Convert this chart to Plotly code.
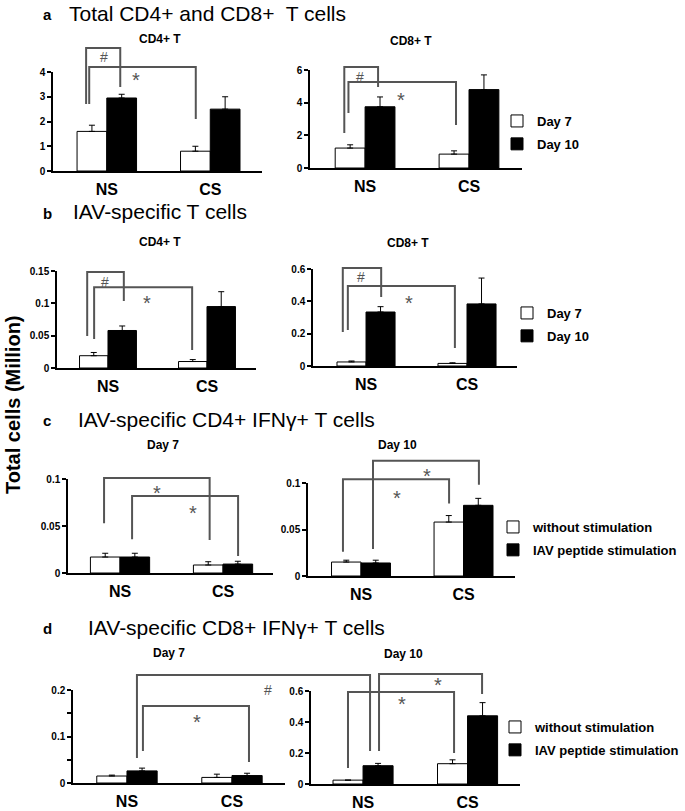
import plotly.graph_objects as go

W, H = 685, 811
FONT = 'Liberation Sans, Arial, sans-serif'

# ---- data (million cells), NS / CS ----
groups = ['NS', 'CS']

a_cd4_day7 = [1.6, 0.8]
a_cd4_day7_err = [0.25, 0.2]
a_cd4_day10 = [2.95, 2.5]
a_cd4_day10_err = [0.15, 0.5]
a_cd8_day7 = [1.22, 0.85]
a_cd8_day7_err = [0.2, 0.2]
a_cd8_day10 = [3.75, 4.8]
a_cd8_day10_err = [0.6, 0.9]

b_cd4_day7 = [0.019, 0.01]
b_cd4_day7_err = [0.005, 0.003]
b_cd4_day10 = [0.058, 0.095]
b_cd4_day10_err = [0.007, 0.023]
b_cd8_day7 = [0.025, 0.016]
b_cd8_day7_err = [0.006, 0.004]
b_cd8_day10 = [0.334, 0.384]
b_cd8_day10_err = [0.033, 0.16]

c_day7_unstim = [0.017, 0.0085]
c_day7_unstim_err = [0.004, 0.0035]
c_day7_stim = [0.017, 0.0095]
c_day7_stim_err = [0.004, 0.003]
c_day10_unstim = [0.015, 0.058]
c_day10_unstim_err = [0.002, 0.007]
c_day10_stim = [0.014, 0.076]
c_day10_stim_err = [0.003, 0.0075]

d_day7_unstim = [0.015, 0.012]
d_day7_unstim_err = [0.002, 0.007]
d_day7_stim = [0.026, 0.016]
d_day7_stim_err = [0.006, 0.005]
d_day10_unstim = [0.025, 0.131]
d_day10_unstim_err = [0.0, 0.025]
d_day10_stim = [0.118, 0.44]
d_day10_stim_err = [0.015, 0.085]

day_names = ['Day 7', 'Day 10']
stim_names = ['without stimulation', 'IAV peptide stimulation']


def X(px):
    return px / W


def Y(py):
    return 1 - py / H


# panel geometry in pixels: left, right, bottom, top, x range, y max, tick values, tick text
panels = {
    'a1': dict(box=(53, 262, 171, 72), xr=[-0.52, 1.5], ymax=4,
               tv=[0, 1, 2, 3, 4], tt=['0', '1', '2', '3', '4'],
               series=[(a_cd4_day7, a_cd4_day7_err), (a_cd4_day10, a_cd4_day10_err)],
               names=day_names, legend=None, title='CD4+ T', tpos=(160, 39)),
    'a2': dict(box=(310, 522, 168, 70), xr=[-0.53, 1.51], ymax=6,
               tv=[0, 2, 4, 6], tt=['0', '2', '4', '6'],
               series=[(a_cd8_day7, a_cd8_day7_err), (a_cd8_day10, a_cd8_day10_err)],
               names=day_names, legend='legend', title='CD8+ T', tpos=(411, 41)),
    'b1': dict(box=(57, 256, 368, 271), xr=[-0.515, 1.495], ymax=0.15,
               tv=[0, 0.05, 0.1, 0.15], tt=['0', '0.05', '0.1', '0.15'],
               series=[(b_cd4_day7, b_cd4_day7_err), (b_cd4_day10, b_cd4_day10_err)],
               names=day_names, legend=None, title='CD4+ T', tpos=(160, 242)),
    'b2': dict(box=(313, 517, 366, 269), xr=[-0.525, 1.495], ymax=0.6,
               tv=[0, 0.2, 0.4, 0.6], tt=['0', '0.2', '0.4', '0.6'],
               series=[(b_cd8_day7, b_cd8_day7_err), (b_cd8_day10, b_cd8_day10_err)],
               names=day_names, legend='legend2', title='CD8+ T', tpos=(408, 243)),
    'c1': dict(box=(68, 273, 573, 479), xr=[-0.505, 1.485], ymax=0.1,
               tv=[0, 0.05, 0.1], tt=['0', '0.05', '0.1'],
               series=[(c_day7_unstim, c_day7_unstim_err), (c_day7_stim, c_day7_stim_err)],
               names=stim_names, legend=None, title='Day 7', tpos=(163, 445)),
    'c2': dict(box=(308, 515, 576, 483), xr=[-0.517, 1.502], ymax=0.1,
               tv=[0, 0.05, 0.1], tt=['0', '0.05', '0.1'],
               series=[(c_day10_unstim, c_day10_unstim_err), (c_day10_stim, c_day10_stim_err)],
               names=stim_names, legend='legend3', title='Day 10', tpos=(397, 445)),
    'd1': dict(box=(73, 285, 783, 690), xr=[-0.514, 1.505], ymax=0.2,
               tv=[0, 0.05, 0.1, 0.15, 0.2], tt=['0', '', '0.1', '', '0.2'],
               series=[(d_day7_unstim, d_day7_unstim_err), (d_day7_stim, d_day7_stim_err)],
               names=stim_names, legend=None, title='Day 7', tpos=(169, 653)),
    'd2': dict(box=(311, 520, 784, 691), xr=[-0.498, 1.502], ymax=0.6,
               tv=[0, 0.2, 0.4, 0.6], tt=['0', '0.2', '0.4', '0.6'],
               series=[(d_day10_unstim, d_day10_unstim_err), (d_day10_stim, d_day10_stim_err)],
               names=stim_names, legend='legend4', title='Day 10', tpos=(403, 654)),
}

# significance brackets in data units: symbol, x left, y left end, x right, y right end, y top, label x, label y
brackets = {
    'a1': [('#', -0.20, 2.71, 0.13, 3.39, 4.97, -0.03, 4.6),
           ('*', -0.17, 2.71, 0.86, 2.1, 4.2, 0.28, 3.88)],
    'a2': [('#', -0.20, 2.14, 0.125, 4.96, 6.18, -0.05, 5.57),
           ('*', -0.16, 3.37, 0.875, 2.63, 5.27, 0.35, 4.47)],
    'b1': [('#', -0.21, 0.0495, 0.16, 0.1036, 0.1484, -0.03, 0.133),
           ('*', -0.14, 0.045, 0.85, 0.028, 0.125, 0.39, 0.108)],
    'b2': [('#', -0.23, 0.21, 0.15, 0.427, 0.606, -0.05, 0.55),
           ('*', -0.18, 0.223, 0.88, 0.111, 0.495, 0.43, 0.42)],
    'c1': [('*', -0.155, 0.053, 0.87, 0.035, 0.101, 0.36, 0.090),
           ('*', 0.117, 0.036, 1.146, 0.018, 0.082, 0.71, 0.069)],
    'c2': [('*', 0.117, 0.029, 1.15, 0.098, 0.124, 0.645, 0.113),
           ('*', -0.176, 0.026, 0.859, 0.078, 0.104, 0.35, 0.089)],
    'd1': [('*', 0.152, 0.0688, 1.162, 0.045, 0.1656, 0.667, 0.142)],
    'd2': [('*', 0.153, 0.213, 1.139, 0.58, 0.71, 0.718, 0.67),
           ('*', -0.144, 0.103, 0.871, 0.2, 0.593, 0.37, 0.548)],
}


def to_px(key, xv, yv):
    p = panels[key]
    l, r, b, t = p['box']
    x0, x1 = p['xr']
    return l + (xv - x0) / (x1 - x0) * (r - l), b - yv / p['ymax'] * (b - t)


fig = go.Figure()
layout = dict(shapes=[], annotations=[])
fills = ['white', 'black']

for i, (key, p) in enumerate(panels.items()):
    n = '' if i == 0 else str(i + 1)
    l, r, b, t = p['box']
    for j, (vals, err) in enumerate(p['series']):
        fig.add_trace(go.Bar(
            x=[0, 1], y=vals, name=p['names'][j],
            marker=dict(color=fills[j], line=dict(color='black', width=1)),
            error_y=dict(type='data', array=err, arrayminus=[0, 0], symmetric=False,
                         color='black', thickness=1, width=3),
            xaxis='x' + n, yaxis='y' + n,
            showlegend=p['legend'] is not None,
            legend=p['legend'] or 'legend',
            legendgroup=key + str(j),
        ))
    layout['xaxis' + n] = dict(
        domain=[X(l), X(r)], range=p['xr'], anchor='y' + n, automargin=False,
        tickvals=[0, 1], ticktext=groups, ticks='outside', ticklen=3,
        tickcolor='rgba(0,0,0,0)', showline=True, linecolor='black', linewidth=1.5,
        showgrid=False, zeroline=False, fixedrange=True,
        tickfont=dict(family=FONT, size=16, color='black', weight='bold'))
    layout['yaxis' + n] = dict(
        domain=[Y(b), Y(t)], range=[0, p['ymax']], anchor='x' + n, automargin=False,
        tickvals=p['tv'], ticktext=p['tt'], ticks='outside', ticklen=4, tickwidth=1.5,
        tickcolor='black', showline=True, linecolor='black', linewidth=1.5,
        showgrid=False, zeroline=False,
        tickfont=dict(family=FONT, size=10, color='black', weight='bold'))
    layout['annotations'].append(dict(
        text=p['title'], x=X(p['tpos'][0]), y=Y(p['tpos'][1]), xref='paper', yref='paper',
        showarrow=False, xanchor='center', yanchor='middle',
        font=dict(family=FONT, size=12, color='black', weight='bold')))


def bracket_path(p0, p1, p2, p3):
    pts = [p0, p1, p2, p3]
    return 'M ' + ' L '.join(f'{X(a):.5f},{Y(c):.5f}' for a, c in pts)


def mark(sym, pxy):
    size = 20 if sym == '*' else 14
    return dict(text=sym, x=X(pxy[0]), y=Y(pxy[1]), xref='paper', yref='paper',
                showarrow=False, xanchor='center', yanchor='middle',
                yshift=-5 if sym == '*' else 0,
                font=dict(family=FONT, size=size, color='#555555'))


for key, items in brackets.items():
    for sym, xl, yl, xr, yr, top, sx, sy in items:
        path = bracket_path(to_px(key, xl, yl), to_px(key, xl, top),
                            to_px(key, xr, top), to_px(key, xr, yr))
        layout['shapes'].append(dict(type='path', path=path, xref='paper', yref='paper',
                                     line=dict(color='#555555', width=2)))
        layout['annotations'].append(mark(sym, to_px(key, sx, sy)))

# the '#' bracket in d that spans Day 7 and Day 10
lx, ly = to_px('d1', 0.095, 0.054)
_, ty = to_px('d1', 0.095, 0.232)
rx, ry = to_px('d2', 0.067, 0.213)
layout['shapes'].append(dict(type='path', path=bracket_path((lx, ly), (lx, ty), (rx, ty), (rx, ry)),
                             xref='paper', yref='paper', line=dict(color='#555555', width=2)))
layout['annotations'].append(mark('#', to_px('d1', 1.343, 0.2)))

# section headings
headings = [('a', 'Total CD4+ and CD8+\u00a0 T cells', 41, 67, 13),
            ('b', 'IAV-specific T cells', 41, 71, 212),
            ('c', 'IAV-specific CD4+ IFNγ+ T cells', 41, 76, 419),
            ('d', 'IAV-specific CD8+ IFNγ+ T cells', 41, 86, 627)]
for letter, text, lx_, tx_, y_ in headings:
    layout['annotations'].append(dict(
        text=letter, x=X(lx_), y=Y(y_ + 1), xref='paper', yref='paper', showarrow=False,
        xanchor='left', yanchor='middle', font=dict(family=FONT, size=15, color='black', weight='bold')))
    layout['annotations'].append(dict(
        text=text, x=X(tx_), y=Y(y_), xref='paper', yref='paper', showarrow=False,
        xanchor='left', yanchor='middle', font=dict(family=FONT, size=21, color='black')))

layout['annotations'].append(dict(
    text='Total cells (Million)', x=X(13), y=Y(405), xref='paper', yref='paper',
    showarrow=False, textangle=-90, xanchor='center', yanchor='middle',
    font=dict(family=FONT, size=20, color='black', weight='bold')))

legend_style = dict(xanchor='left', yanchor='top', tracegroupgap=3, bgcolor='rgba(0,0,0,0)',
                    font=dict(family=FONT, size=13, color='black', weight='bold'))
layout['legend'] = dict(x=X(497), y=Y(106), **legend_style)
layout['legend2'] = dict(x=X(507), y=Y(298), **legend_style)
layout['legend3'] = dict(x=X(493), y=Y(512), **legend_style)
layout['legend4'] = dict(x=X(495), y=Y(712), **legend_style)

fig.update_layout(
    width=W, height=H, margin=dict(l=0, r=0, t=0, b=0, autoexpand=False),
    paper_bgcolor='white', plot_bgcolor='white',
    barmode='group', bargap=0.425, bargroupgap=0,
    font=dict(family=FONT, color='black'),
    **layout)

fig.write_html('out.html', config={'displayModeBar': False},
               post_script="document.body.style.margin='0';document.body.style.padding='0';")
